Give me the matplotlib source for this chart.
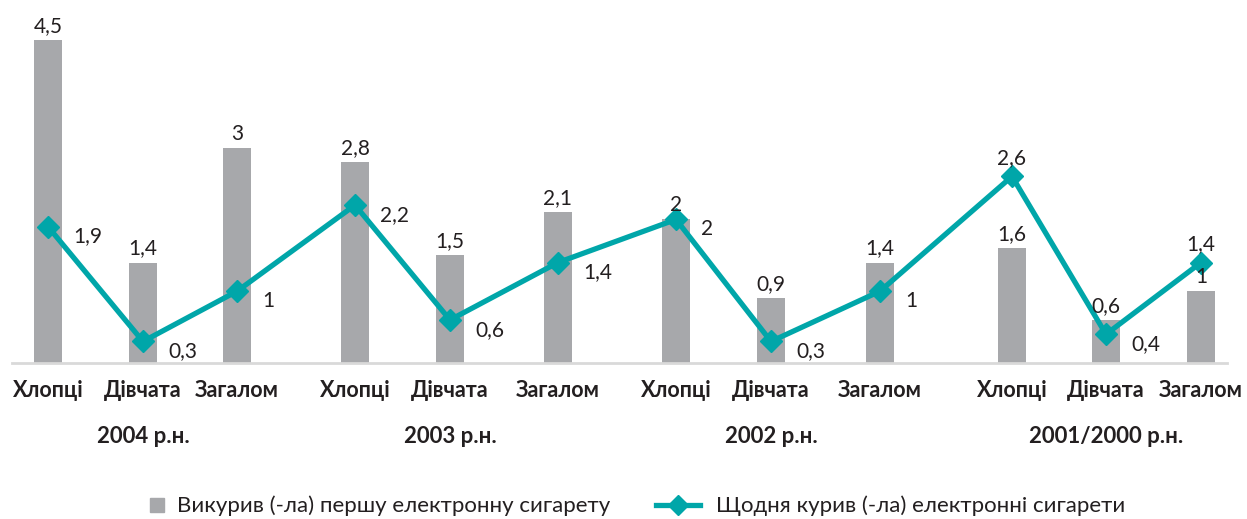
import matplotlib.pyplot as plt
from matplotlib.lines import Line2D

# values
categories = ["Хлопці", "Дівчата", "Загалом"] * 4
years = ["2004 р.н.", "2003 р.н.", "2002 р.н.", "2001/2000 р.н."]
first_cig = [4.5, 1.4, 3, 2.8, 1.5, 2.1, 2, 0.9, 1.4, 1.6, 0.6, 1]
daily = [1.9, 0.3, 1, 2.2, 0.6, 1.4, 2, 0.3, 1, 2.6, 0.4, 1.4]
bar_name = "Викурив (-ла) першу електронну сигарету"
line_name = "Щодня курив (-ла) електронні сигарети"

# layout (pixel columns of the original, which are not evenly spaced)
xpos = [48, 143, 237, 355, 450, 558, 676, 771, 880, 1012, 1106, 1201]
label_above = {9, 11}

GRAY = "#A7A8AB"
TEAL = "#00A6A9"
TXT = "#231F20"

plt.rcParams["font.family"] = ["Lato", "DejaVu Sans"]

W, H = 1247, 519
fig = plt.figure(figsize=(W / 100, H / 100), dpi=100)
ax = fig.add_axes([0, 156 / H, 1, (479 - 156) / H])
ax.set_xlim(0, W)
ax.set_ylim(0, 4.5)

ax.bar(xpos, first_cig, width=28, color=GRAY, zorder=2)
ax.plot(xpos, daily, color=TEAL, lw=3.8, marker="D", ms=11, zorder=3)

for x, v in zip(xpos, first_cig):
    ax.annotate(f"{v:g}".replace(".", ","), (x, v), xytext=(0, 3),
                textcoords="offset points", ha="center", va="bottom",
                fontsize=15, color=TXT)

for i, (x, v) in enumerate(zip(xpos, daily)):
    txt = f"{v:g}".replace(".", ",")
    if i in label_above:
        ax.annotate(txt, (x, v), xytext=(0, 6), textcoords="offset points",
                    ha="center", va="bottom", fontsize=15, color=TXT)
    else:
        ax.annotate(txt, (x, v), xytext=(18, -7), textcoords="offset points",
                    ha="left", va="center", fontsize=15, color=TXT)

for s in ["top", "right", "left"]:
    ax.spines[s].set_visible(False)
ax.spines["bottom"].set_color("#D9D9D9")
ax.spines["bottom"].set_linewidth(2)
ax.spines["bottom"].set_bounds(12, 1227)
ax.set_yticks([])
ax.set_xticks(xpos)
ax.set_xticklabels(categories, fontsize=15.5, fontweight="bold", color=TXT)
ax.tick_params(axis="x", length=0, pad=12)

for k, yr in enumerate(years):
    ax.annotate(yr, (xpos[3 * k + 1], 0), xytext=(0, -53),
                textcoords="offset points", ha="center", va="center",
                fontsize=16, fontweight="bold", color=TXT,
                annotation_clip=False)

ly = 1 - 506 / H
sq = Line2D([], [], ls="", marker="s", ms=10, color=GRAY)
ln = Line2D([], [], color=TEAL, lw=3.8, marker="D", ms=10)
fig.legend(handles=[sq], labels=[bar_name], loc="center left",
           bbox_to_anchor=(126 / W, ly), frameon=False, fontsize=16,
           handlelength=1.0, handletextpad=0.4, labelcolor=TXT)
fig.legend(handles=[ln], labels=[line_name], loc="center left",
           bbox_to_anchor=(636 / W, ly), frameon=False, fontsize=16,
           handlelength=2.0, handletextpad=0.7, labelcolor=TXT)

fig.savefig("out.png", dpi=100)
